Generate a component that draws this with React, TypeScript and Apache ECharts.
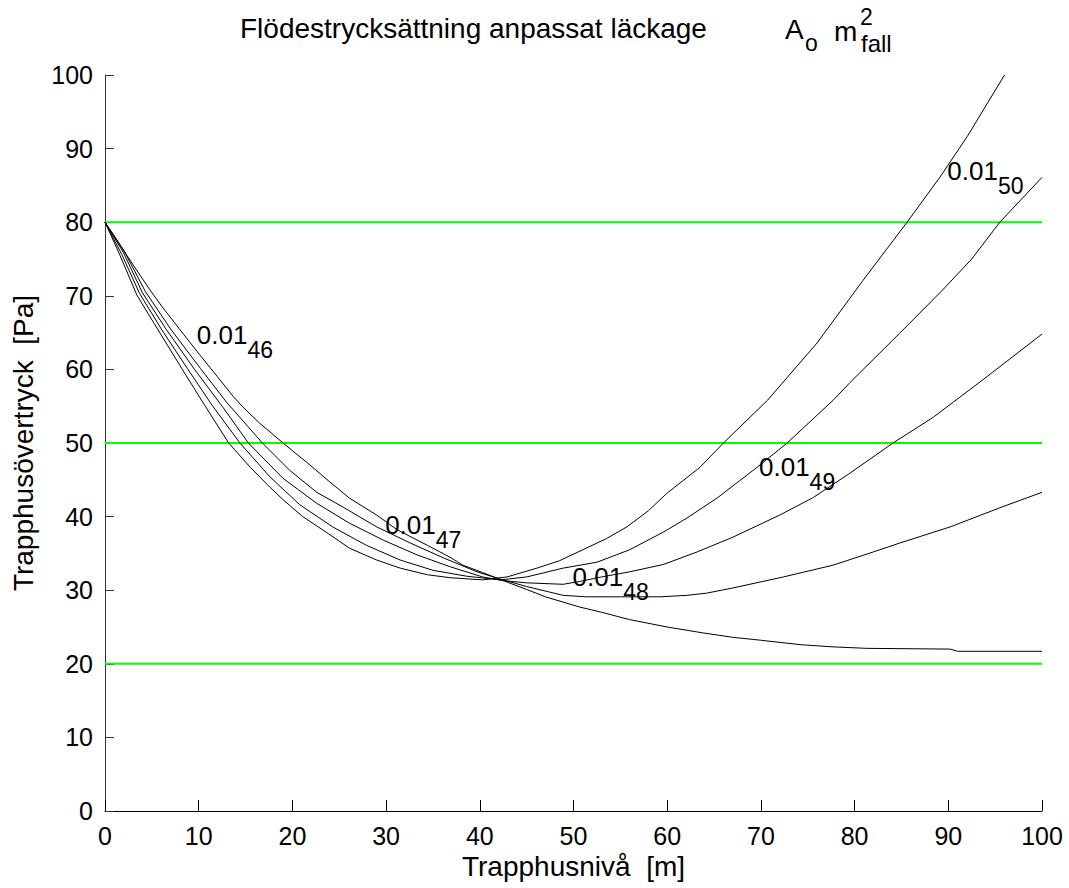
import React, { useEffect, useRef } from "react";
import * as echarts from "echarts";

const xTicks = [0, 10, 20, 30, 40, 50, 60, 70, 80, 90, 100];
const yTicks = [0, 10, 20, 30, 40, 50, 60, 70, 80, 90, 100];

const curve1: [number, number][] = [
  [0, 80], [3, 74.2], [4.8, 70.8], [6.1, 68.5], [8, 65.4], [10.1, 62], [12, 59], [13.7, 56.3],
  [14.7, 54.9], [16.5, 52.7], [19, 50], [21.6, 47.3], [24, 44.7], [26.1, 42.5], [29, 40.2],
  [31.2, 38.2], [34.4, 36.1], [36.8, 34.5], [38.2, 33.4], [40.3, 32.4], [42.5, 31.3], [45, 30.1],
  [47, 29.1], [50.7, 27.7], [53, 27], [56, 26], [60, 25], [63.8, 24.2], [67, 23.6], [70, 23.2],
  [74.2, 22.6], [77.7, 22.3], [81.3, 22.1], [90.2, 22.0], [91, 21.7], [100, 21.7],
];
const curve2: [number, number][] = [
  [0, 80], [2, 76.2], [4.3, 70.6], [7, 65.5], [10.2, 60.1], [13, 55.5], [16.8, 50], [19.7, 46.3],
  [22.6, 43.3], [25.4, 41.3], [29, 38.6], [32.6, 36.4], [36.1, 34.4], [39.7, 32.5], [42.2, 31.5],
  [45, 30.5], [48.9, 29.3], [51.4, 29.1], [55, 29.1], [59.2, 29.1], [62.1, 29.3], [64.2, 29.6],
  [67, 30.3], [72.4, 31.8], [77.7, 33.4], [82, 35.2], [84.8, 36.4], [90.2, 38.6], [95.5, 41.2],
  [100, 43.3],
];
const curve3: [number, number][] = [
  [0, 80], [2, 75.8], [4, 70.4], [6.5, 65.5], [9.5, 60.1], [12.5, 55], [15.3, 50], [19, 45.2],
  [22.6, 41.8], [26.1, 39.1], [29.7, 36.8], [33.3, 34.8], [36.8, 33.2], [40.3, 31.8], [42.5, 31.3],
  [45, 31], [48.9, 30.8], [50.7, 31.2], [53, 31.8], [56, 32.5], [59.6, 33.5], [63.2, 35.2],
  [67, 37.2], [72, 40.2], [75.6, 42.6], [79.5, 45.9], [84.1, 50], [88.4, 53.5], [93.7, 58.6],
  [100, 64.8],
];
const curve4: [number, number][] = [
  [0, 80], [1.8, 75.6], [3.7, 70.3], [6, 65.5], [8.8, 60.1], [11.5, 55], [14.4, 50], [17.6, 45.4],
  [20.8, 41.6], [24.3, 38.6], [27.9, 36.1], [31.5, 34.1], [35, 32.7], [38.6, 31.9], [42.2, 31.4],
  [45, 31.8], [48.9, 33.0], [52.5, 33.8], [56, 35.5], [59.6, 37.9], [62.1, 39.8], [65.3, 42.5],
  [69.6, 46.7], [72.8, 50], [77.7, 55.8], [79.5, 58.2], [84.8, 64.9], [89.4, 70.8], [92.5, 75],
  [95.5, 80], [100, 86.1],
];
const curve5: [number, number][] = [
  [0, 80], [1.6, 75.5], [3.4, 70.1], [5.6, 65.5], [8.2, 60.1], [10.7, 55], [13.2, 50], [15.5, 46.7],
  [17.6, 44], [19, 42.3], [21.1, 40], [23.7, 37.8], [26.1, 35.7], [29, 34.1], [31.5, 33],
  [34.4, 32.1], [36.8, 31.7], [40.3, 31.4], [42.9, 31.8], [46.1, 33.0], [48.5, 34.0], [51, 35.5],
  [53.5, 37.0], [55.7, 38.6], [58, 40.8], [60, 43.2], [63.5, 46.7], [66, 50], [70.7, 55.8],
  [76, 63.6], [80.9, 72.1], [85.6, 80], [89.1, 86.1], [92, 91.6], [96, 100],
];
const curves = [curve1, curve2, curve3, curve4, curve5];

const limitLevels = [20, 50, 80];

const labelMain = "0.01";
const labelSubs = ["46", "47", "48", "49", "50"];
const labelX = [9.8, 29.9, 49.9, 69.8, 89.9];
const labelY = [64.7, 38.9, 31.8, 46.7, 87.0];

const titleText = "Flödestrycksättning anpassat läckage";
const xName = "Trapphusnivå  [m]";
const yName = "Trapphusövertryck  [Pa]";

const FONT = "'Liberation Sans', Arial, Helvetica, sans-serif";

export default function App() {
  const ref = useRef<HTMLDivElement>(null);
  useEffect(() => {
    if (!ref.current) return;
    const chart = echarts.init(ref.current, undefined, { renderer: "svg" });
    const series: any[] = [];
    limitLevels.forEach((lv, i) => {
      series.push({
        type: "line",
        name: "limit" + i,
        data: [[xTicks[0], lv], [xTicks[xTicks.length - 1], lv]],
        showSymbol: false,
        lineStyle: { color: "#00ff00", width: 2 },
        silent: true,
        z: 1,
      });
    });
    curves.forEach((c, i) => {
      series.push({
        type: "line",
        name: "curve" + i,
        data: c,
        showSymbol: false,
        lineStyle: { color: "#000", width: 1 },
        z: 2,
      });
    });
    series.push({
      type: "scatter",
      name: "labels",
      symbolSize: 0,
      z: 3,
      itemStyle: { opacity: 1, color: "#000" },
      data: labelX.map((x, i) => ({
        value: [x, labelY[i]],
        label: {
          show: true,
          position: "right",
          distance: 0,
          color: "#000",
          opacity: 1,
          textBorderWidth: 0,
          formatter: "{a|" + labelMain + "}{s|" + labelSubs[i] + "}",
          rich: {
            a: { fontSize: 26, fontFamily: FONT, color: "#000", lineHeight: 26 },
            s: { fontSize: 23, fontFamily: FONT, color: "#000", lineHeight: 23, padding: [30, 0, 0, 0] },
          },
        },
      })),
    });
    chart.setOption({
      animation: false,
      backgroundColor: "#fff",
      grid: { left: 105, right: 27, top: 75, bottom: 77, containLabel: false },
      xAxis: {
        type: "value",
        min: xTicks[0],
        max: xTicks[xTicks.length - 1],
        interval: 10,
        name: xName,
        nameLocation: "middle",
        nameGap: 31,
        nameTextStyle: { fontSize: 28, fontFamily: FONT, color: "#000" },
        axisLine: { lineStyle: { color: "#000", width: 1 } },
        axisTick: { inside: true, length: 11, lineStyle: { color: "#000" } },
        axisLabel: { fontSize: 25, fontFamily: FONT, color: "#000", margin: 12 },
        splitLine: { show: false },
      },
      yAxis: {
        type: "value",
        min: yTicks[0],
        max: yTicks[yTicks.length - 1],
        interval: 10,
        name: yName,
        nameLocation: "middle",
        nameGap: 68,
        nameTextStyle: { fontSize: 28, fontFamily: FONT, color: "#000" },
        axisLine: { show: true, lineStyle: { color: "#333", width: 1 } },
        axisTick: { show: true, inside: true, length: 9, lineStyle: { color: "#333" } },
        axisLabel: { fontSize: 25, fontFamily: FONT, color: "#000", margin: 12 },
        splitLine: { show: false },
      },
      graphic: [
        { type: "text", x: 240, y: 28, style: { text: titleText, fontSize: 28, fontFamily: FONT, fill: "#000", textVerticalAlign: "middle" } },
        { type: "text", x: 785, y: 29, style: { text: "A", fontSize: 28, fontFamily: FONT, fill: "#000", textVerticalAlign: "middle" } },
        { type: "text", x: 805, y: 43, style: { text: "o", fontSize: 23, fontFamily: FONT, fill: "#000", textVerticalAlign: "middle" } },
        { type: "text", x: 834, y: 31, style: { text: "m", fontSize: 28, fontFamily: FONT, fill: "#000", textVerticalAlign: "middle" } },
        { type: "text", x: 860, y: 17, style: { text: "2", fontSize: 23, fontFamily: FONT, fill: "#000", textVerticalAlign: "middle" } },
        { type: "text", x: 861, y: 43, style: { text: "fall", fontSize: 24, fontFamily: FONT, fill: "#000", textVerticalAlign: "middle" } },
      ],
      series,
    });
    return () => chart.dispose();
  }, []);
  return (
    <div
      ref={ref}
      style={{ position: "fixed", left: 0, top: 0, width: 1069, height: 888, background: "#fff" }}
    />
  );
}
